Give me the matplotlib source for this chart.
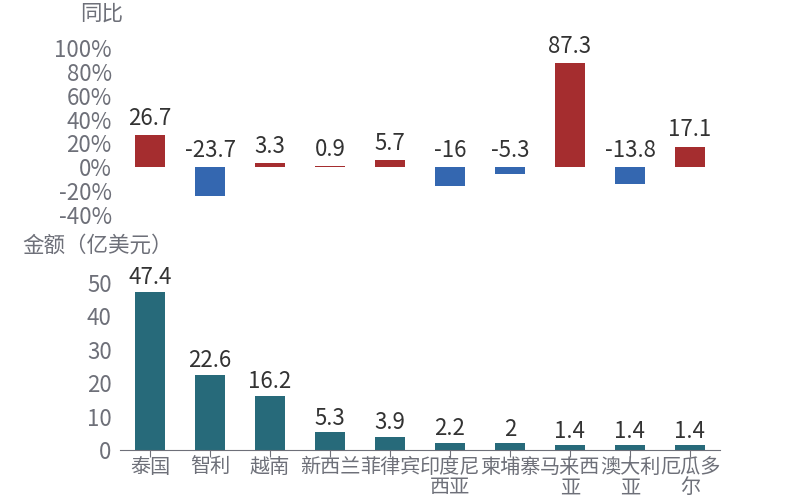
import numpy as np
import matplotlib.pyplot as plt

plt.rcParams['font.family'] = ['Noto Sans CJK SC', 'DejaVu Sans']

countries = ['泰国', '智利', '越南', '新西兰', '菲律宾', '印度尼\n西亚', '柬埔寨', '马来西\n亚', '澳大利\n亚', '厄瓜多\n尔']
yoy = [26.7, -23.7, 3.3, 0.9, 5.7, -16, -5.3, 87.3, -13.8, 17.1]
amount = [47.4, 22.6, 16.2, 5.3, 3.9, 2.2, 2, 1.4, 1.4, 1.4]

red = '#a52d2f'
blue = '#3467b0'
teal = '#276a7a'
tick_gray = '#6e7079'
label_dark = '#333333'

fig = plt.figure(figsize=(8, 5), dpi=100)
ax1 = fig.add_axes([0.15, 0.57, 0.75, 0.334])
ax2 = fig.add_axes([0.15, 0.10, 0.75, 0.334])

x = np.arange(len(countries))

# top: year-on-year
cols = [red if v >= 0 else blue for v in yoy]
ax1.bar(x, yoy, width=0.5, color=cols)
for xi, v in zip(x, yoy):
    ax1.annotate(f'{v:g}', (xi, max(v, 0)), xytext=(0, 4), textcoords='offset points',
                 ha='center', va='bottom', fontsize=16, color=label_dark)
ax1.set_xlim(-0.5, len(countries) - 0.5)
ax1.set_ylim(-40, 100)
ax1.set_yticks(np.arange(-40, 101, 20))
ax1.set_yticklabels([f'{t}%' for t in range(-40, 101, 20)])
ax1.set_xticks([])
for s in ax1.spines.values():
    s.set_visible(False)
ax1.tick_params(axis='y', length=0, labelsize=16, colors=tick_gray, pad=6)
fig.text(0.1, 0.972, '同比', fontsize=15.5, color=tick_gray, va='center', ha='left')

# bottom: amount
ax2.bar(x, amount, width=0.5, color=teal)
for xi, v in zip(x, amount):
    ax2.annotate(f'{v:g}', (xi, v), xytext=(0, 2), textcoords='offset points',
                 ha='center', va='bottom', fontsize=16, color=label_dark)
ax2.set_xlim(-0.5, len(countries) - 0.5)
ax2.set_ylim(0, 50)
ax2.set_yticks(np.arange(0, 51, 10))
ax2.set_xticks(x)
ax2.set_xticklabels(countries, linespacing=0.95)
for k in ['top', 'right', 'left']:
    ax2.spines[k].set_visible(False)
ax2.spines['bottom'].set_color(tick_gray)
ax2.tick_params(axis='y', length=0, labelsize=16, colors=tick_gray, pad=6)
ax2.tick_params(axis='x', length=5, labelsize=14.5, colors=tick_gray, pad=0)
fig.text(0.028, 0.508, '金额（亿美元）', fontsize=15.5, color=tick_gray, va='center', ha='left')

fig.savefig('out.png', dpi=100)
